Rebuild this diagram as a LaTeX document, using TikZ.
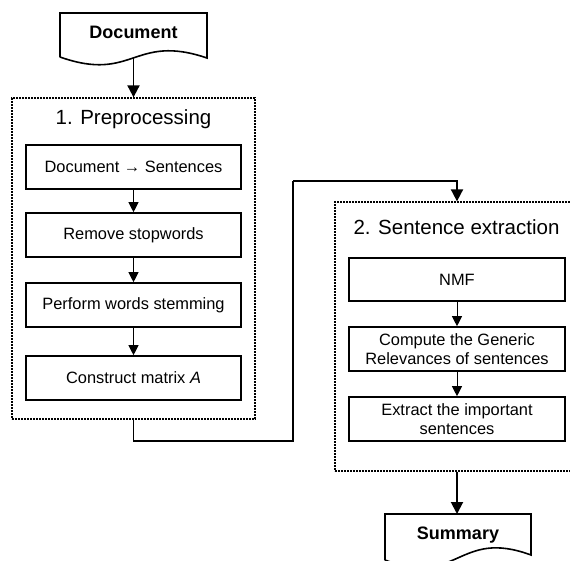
\documentclass[tikz,border=0pt]{standalone}
\usepackage{fontspec}
\setmainfont{Liberation Sans}
\usetikzlibrary{arrows.meta}
\begin{document}
\begin{tikzpicture}[x=1pt,y=-1pt,
  procbox/.style={draw, line width=1.6pt, minimum width=216pt, minimum height=44pt, inner sep=0pt, align=center, font=\fontsize{16.4}{18.5}\selectfont},
  groupbox/.style={draw, line width=1.3pt, dash pattern=on 2pt off 1pt, inner sep=0pt},
  titletext/.style={inner sep=0pt, font=\fontsize{20.5}{24}\selectfont},
  doctext/.style={inner sep=0pt, font=\fontsize{18}{21}\selectfont\bfseries},
  docline/.style={line width=1.6pt},
  arr/.style={line width=0.9pt, -{Triangle[width=10pt,length=10pt]}},
  conn/.style={line width=1.9pt},
  carr/.style={line width=1.9pt, -{Triangle[width=12pt,length=12pt]}}]
\useasboundingbox (0,0) rectangle (570,560);
\clip (0,0) rectangle (570,560);
\fill[white] (0,0) rectangle (570,560);

% Document shape
\draw[docline] (60,57) -- (60,13) -- (207,13) -- (207,58)
  .. controls (133.5,33) and (133.5,83) .. (60,57);
\node[doctext] (doc) at (133.5,32) {Document};
\coordinate (docb) at (133.5,57.5);

% Group 1
\node[groupbox, minimum width=243pt, minimum height=321pt] (g1) at (133.5,258.5) {};
\node[titletext] (t1) at (133.5,119) {1. Preprocessing};
\node[procbox, minimum width=215pt] (p1) at (133.5,167) {Document → Sentences};
\node[procbox, minimum width=215pt] (p2) at (133.5,235) {Remove stopwords};
\node[procbox, minimum width=215pt] (p3) at (133.5,305) {Perform words stemming};
\node[procbox, minimum width=215pt] (p4) at (133.5,378) {Construct matrix \textit{A}};

% Group 2
\node[groupbox, minimum width=244pt, minimum height=269pt] (g2) at (457,336.5) {};
\node[titletext] (t2) at (456.5,227) {2. Sentence extraction};
\node[procbox, minimum height=43pt] (q1) at (457,279.5) {NMF};
\node[procbox] (q2) at (457,349) {Compute the Generic\\Relevances of sentences};
\node[procbox] (q3) at (457,419) {Extract the important\\sentences};

% Summary shape
\draw[docline] (385,560) -- (385,514) -- (531,514) -- (531,555)
  .. controls (458,528) and (458,588) .. (385,560);
\node[doctext] (sum) at (458,535) {Summary};
\coordinate (sumtop) at (458,514);

% connectors
\draw[carr] (docb) -- (g1.north);
\draw[arr] (p1) -- (p2);
\draw[arr] (p2) -- (p3);
\draw[arr] (p3) -- (p4);
\coordinate (c1) at (293,441);
\coordinate (c2) at (293,181);
\draw[conn] (g1.south) |- (c1) -- (c2);
\draw[carr] (c2) -| (g2.north);
\draw[arr] (q1) -- (q2);
\draw[arr] (q2) -- (q3);
\draw[carr] (g2.south) -- (g2.south |- sumtop);
\end{tikzpicture}
\end{document}
